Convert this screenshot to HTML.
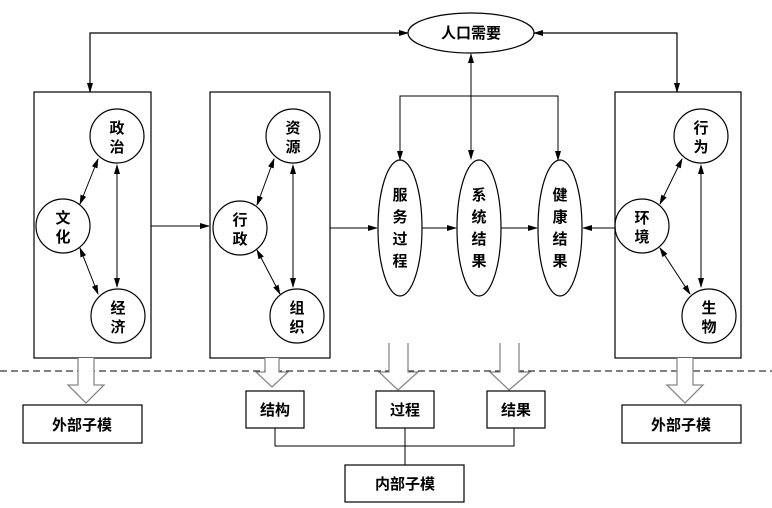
<html><body style="margin:0;background:#fff">
<svg width="772" height="508" xmlns="http://www.w3.org/2000/svg" style="font-family:'Liberation Sans','Noto Sans CJK SC',sans-serif">
<defs>
<marker id="a" markerWidth="10" markerHeight="8" refX="9" refY="4" orient="auto-start-reverse" markerUnits="userSpaceOnUse"><path d="M0,1 L10,4 L0,7z" fill="#000"/></marker>
</defs>
<g fill="none" stroke="#000" stroke-width="1.2">
<rect x="34" y="92" width="117" height="266"/>
<rect x="210" y="92" width="120" height="266"/>
<rect x="615" y="92" width="126" height="266"/>
<ellipse cx="471" cy="33" rx="63" ry="20"/>
<path d="M408,33 H90 V92" marker-end="url(#a)" marker-start="url(#a)"/>
<path d="M534,33 H677 V92" marker-end="url(#a)" marker-start="url(#a)"/>
<circle cx="117" cy="136" r="27"/><circle cx="63" cy="226" r="27"/><circle cx="118" cy="316" r="27"/>
<circle cx="293" cy="136" r="27"/><circle cx="240" cy="228" r="27"/><circle cx="297" cy="316" r="27"/>
<circle cx="701" cy="136" r="27"/><circle cx="642" cy="226" r="27"/><circle cx="709" cy="316" r="27"/>
<ellipse cx="400" cy="228" rx="22" ry="68"/>
<ellipse cx="479" cy="228" rx="22" ry="68"/>
<ellipse cx="560" cy="228" rx="22" ry="68"/>
<g stroke-width="1" marker-end="url(#a)" marker-start="url(#a)">
<line x1="98" y1="159" x2="80" y2="204"/><line x1="80" y1="248" x2="98" y2="294"/><line x1="117" y1="165" x2="117" y2="287"/>
<line x1="274" y1="159" x2="257" y2="205"/><line x1="257" y1="250" x2="280" y2="294"/><line x1="293" y1="165" x2="293" y2="287"/>
<line x1="682" y1="159" x2="660" y2="204"/><line x1="660" y1="248" x2="690" y2="294"/><line x1="701" y1="165" x2="701" y2="287"/>
<line x1="471" y1="54" x2="471" y2="159"/>
</g>
<g stroke-width="1" marker-end="url(#a)">
<path d="M400,160 V96 H558 V160" marker-start="url(#a)"/>
<line x1="151" y1="226" x2="209" y2="226"/>
<line x1="330" y1="228" x2="377" y2="228"/>
<line x1="422" y1="228" x2="456" y2="228"/>
<line x1="501" y1="228" x2="537" y2="228"/>
<line x1="615" y1="228" x2="583" y2="228"/>
</g>
<line x1="0" y1="371" x2="772" y2="371" stroke-dasharray="7,4" stroke-width="1"/>
<g stroke="#888" stroke-width="1.3" fill="#fff">
<path d="M78,358 V385 H68 L86,403 L104,385 H94 V358"/>
<path d="M265,358 V372 H256 L272,387 L288,372 H279 V358"/>
<path d="M389,343 V372 H379 L398,390 L418,372 H408 V343"/>
<path d="M500,343 V372 H490 L509,390 L530,372 H519 V343"/>
<path d="M677,358 V385 H667 L685,403 L703,385 H693 V358"/>
</g>
<rect x="23" y="405" width="119" height="38"/>
<rect x="622" y="405" width="119" height="38"/>
<rect x="246" y="391" width="58" height="37"/>
<rect x="376" y="391" width="58" height="37"/>
<rect x="487" y="391" width="58" height="37"/>
<rect x="345" y="465" width="119" height="37"/>
<path d="M275,428 V446 H514 V428 M405,428 V465" stroke-width="1"/>
</g>
<g font-size="15" font-weight="bold" text-anchor="middle" fill="#000">
<text x="471" y="38">人口需要</text>
<text x="117" y="133">政</text><text x="117" y="152">治</text>
<text x="63" y="223">文</text><text x="63" y="242">化</text>
<text x="118" y="313">经</text><text x="118" y="332">济</text>
<text x="293" y="133">资</text><text x="293" y="152">源</text>
<text x="240" y="225">行</text><text x="240" y="244">政</text>
<text x="297" y="313">组</text><text x="297" y="332">织</text>
<text x="701" y="133">行</text><text x="701" y="152">为</text>
<text x="642" y="223">环</text><text x="642" y="242">境</text>
<text x="709" y="313">生</text><text x="709" y="332">物</text>
<text x="400" y="200">服</text><text x="400" y="222">务</text><text x="400" y="244">过</text><text x="400" y="266">程</text>
<text x="479" y="200">系</text><text x="479" y="222">统</text><text x="479" y="244">结</text><text x="479" y="266">果</text>
<text x="560" y="200">健</text><text x="560" y="222">康</text><text x="560" y="244">结</text><text x="560" y="266">果</text>
<text x="82" y="430">外部子模</text>
<text x="681" y="430">外部子模</text>
<text x="275" y="415">结构</text>
<text x="405" y="415">过程</text>
<text x="516" y="415">结果</text>
<text x="405" y="489">内部子模</text>
</g>
</svg>
</body></html>
